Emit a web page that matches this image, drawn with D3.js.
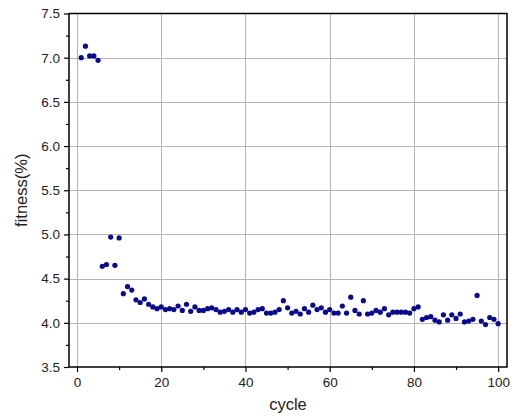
<!DOCTYPE html>
<html>
<head>
<meta charset="utf-8">
<script src="https://cdn.jsdelivr.net/npm/d3@7"></script>
<style>
  html, body { margin: 0; padding: 0; background: #fff; }
  svg { display: block; font-family: "Liberation Sans", Arial, sans-serif; }
</style>
</head>
<body>
<svg id="chart" width="528" height="417"></svg>
<script>
// Fitness value per optimisation cycle
const cycles = d3.range(1, 101);
const fitness = [
  7.00, 7.13, 7.02, 7.02, 6.97, 4.64, 4.66, 4.97, 4.65, 4.96,
  4.33, 4.41, 4.37, 4.26, 4.23, 4.27, 4.21, 4.18, 4.16, 4.18,
  4.15, 4.16, 4.15, 4.19, 4.14, 4.21, 4.13, 4.18, 4.14, 4.14,
  4.16, 4.17, 4.15, 4.12, 4.13, 4.15, 4.12, 4.15, 4.12, 4.15,
  4.11, 4.12, 4.15, 4.16, 4.11, 4.11, 4.12, 4.15, 4.25, 4.17,
  4.11, 4.13, 4.10, 4.16, 4.12, 4.20, 4.15, 4.17, 4.12, 4.15,
  4.11, 4.11, 4.19, 4.11, 4.29, 4.14, 4.10, 4.25, 4.10, 4.11,
  4.14, 4.12, 4.16, 4.09, 4.12, 4.12, 4.12, 4.12, 4.11, 4.16,
  4.18, 4.04, 4.06, 4.07, 4.03, 4.01, 4.09, 4.03, 4.09, 4.05,
  4.10, 4.01, 4.02, 4.04, 4.31, 4.02, 3.98, 4.06, 4.04, 3.99
];
const xTicks = [0, 20, 40, 60, 80, 100];
const xMinor = [10, 30, 50, 70, 90];
const yTicks = [3.5, 4.0, 4.5, 5.0, 5.5, 6.0, 6.5, 7.0, 7.5];
const yMinor = [3.75, 4.25, 4.75, 5.25, 5.75, 6.25, 6.75, 7.25];
const xTitle = "cycle";
const yTitle = "fitness(%)";

const svg = d3.select("#chart");
const plotL = 69, plotR = 507, plotT = 13.5, plotB = 367;

const x = d3.scaleLinear().domain([-1.9, 102.1]).range([plotL, plotR]);
const y = d3.scaleLinear().domain([3.5, 7.5]).range([plotB, plotT]);

// grid
const grid = svg.append("g").attr("stroke", "#b4b4b4").attr("stroke-width", 1);
grid.selectAll("line.gx").data(xTicks).join("line")
  .attr("x1", d => Math.round(x(d)) + 0.5).attr("x2", d => Math.round(x(d)) + 0.5)
  .attr("y1", plotT).attr("y2", plotB);
grid.selectAll("line.gy").data(yTicks.filter(v => v > 3.5 && v < 7.5)).join("line")
  .attr("y1", d => Math.round(y(d)) + 0.5).attr("y2", d => Math.round(y(d)) + 0.5)
  .attr("x1", plotL).attr("x2", plotR);

// axes
const xAxis = svg.append("g").attr("transform", `translate(0,${plotB})`)
  .call(d3.axisBottom(x).tickValues(xTicks).tickSize(5).tickPadding(5).tickFormat(d3.format("d")));
const xAxisMinor = svg.append("g").attr("transform", `translate(0,${plotB})`)
  .call(d3.axisBottom(x).tickValues(xMinor).tickSize(3).tickFormat(""));
const yAxis = svg.append("g").attr("transform", `translate(${plotL},0)`)
  .call(d3.axisLeft(y).tickValues(yTicks).tickSize(5).tickPadding(4).tickFormat(d3.format(".1f")));
const yAxisMinor = svg.append("g").attr("transform", `translate(${plotL},0)`)
  .call(d3.axisLeft(y).tickValues(yMinor).tickSize(3).tickFormat(""));

[xAxis, xAxisMinor, yAxis, yAxisMinor].forEach(g => {
  g.select(".domain").remove();
  g.selectAll(".tick line").attr("stroke", "#000").attr("stroke-width", 1.2);
  g.selectAll(".tick text").attr("fill", "#222").style("font-size", "13.5px")
    .style("font-family", "'Liberation Sans', Arial, sans-serif");
});

// frame
svg.append("rect")
  .attr("x", plotL).attr("y", plotT)
  .attr("width", plotR - plotL).attr("height", plotB - plotT)
  .attr("fill", "none").attr("stroke", "#000").attr("stroke-width", 1.5);

// points
svg.append("g").attr("fill", "#0a0a8c")
  .selectAll("circle").data(cycles).join("circle")
  .attr("cx", (d) => x(d))
  .attr("cy", (d, i) => y(fitness[i]))
  .attr("r", 2.6);

// titles
svg.append("text")
  .attr("x", (plotL + plotR) / 2).attr("y", 410)
  .attr("text-anchor", "middle").attr("fill", "#222")
  .style("font-size", "16.5px").text(xTitle);

svg.append("text")
  .attr("transform", `translate(27,${(plotT + plotB) / 2}) rotate(-90)`)
  .attr("text-anchor", "middle").attr("fill", "#222")
  .style("font-size", "16.5px").text(yTitle);
</script>
</body>
</html>
